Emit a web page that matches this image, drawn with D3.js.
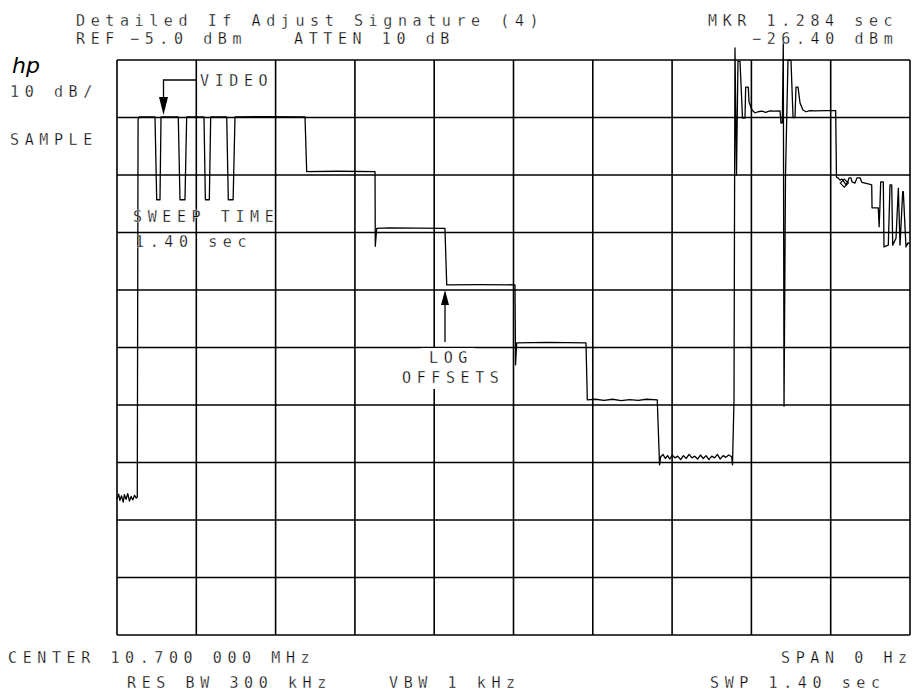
<!DOCTYPE html>
<html lang="en">
<head>
    <meta charset="UTF-8">
    <title>Detailed If Adjust Signature (4)</title>
    <script src="https://d3js.org/d3.v7.min.js"></script>

    <style>
        body {
            margin: 0;
            background: #fff;
        }

        svg {
            display: block;
        }

        /* plotter style lettering: narrow mono glyphs, wide pitch, thin strokes */
        text {
            font-family: 'DejaVu Sans Mono', monospace;
            font-size: 15px;
            letter-spacing: 5.6px;
            fill: #000;
            stroke: #fff;
            stroke-width: 0.3px;
        }
    </style>
</head>
<body>

    <div id="container"></div>

    <script>

        // graticule divisions: 0.14 sec/div across, 10 dB/div down from REF -5 dBm
        const timeDivs = [0, 0.14, 0.28, 0.42, 0.56, 0.70, 0.84, 0.98, 1.12, 1.26, 1.40];
        const levelDivs = [-5, -15, -25, -35, -45, -55, -65, -75, -85, -95, -105];

        // trace, sweep time in sec
        const traceTime = [
            0.000, 0.003, 0.005, 0.008, 0.011, 0.013, 0.016, 0.019,
            0.022, 0.025, 0.028, 0.031, 0.034, 0.0358, 0.0372, 0.0394,
            0.0671, 0.0701, 0.0759, 0.0777, 0.1082, 0.1112, 0.1200, 0.1230,
            0.1536, 0.1560, 0.1630, 0.1654, 0.1937, 0.1965, 0.2050, 0.2083,
            0.2600, 0.3319, 0.3349, 0.3900, 0.4555, 0.4560, 0.4585, 0.4800,
            0.5300, 0.5790, 0.5821, 0.6400, 0.7026, 0.7036, 0.7056, 0.7600,
            0.8280, 0.8303, 0.8450, 0.8600, 0.8750, 0.8900, 0.9050, 0.9200,
            0.9350, 0.9538, 0.9578, 0.9599, 0.9640, 0.9680, 0.9720, 0.9760,
            0.9800, 0.9850, 0.9900, 0.9950, 1.0000, 1.0050, 1.0100, 1.0150,
            1.0200, 1.0250, 1.0300, 1.0350, 1.0400, 1.0450, 1.0500, 1.0550,
            1.0600, 1.0650, 1.0700, 1.0750, 1.0800, 1.0852, 1.0866, 1.0893,
            1.0910, 1.0937, 1.0963, 1.0999, 1.1043, 1.1087, 1.1099, 1.1145,
            1.1158, 1.1211, 1.1264, 1.1317, 1.1387, 1.1450, 1.1528, 1.1600,
            1.1705, 1.1723, 1.1746, 1.1763, 1.1776, 1.1802, 1.1846, 1.1899,
            1.1935, 1.1970, 1.1987, 1.2023, 1.2059, 1.2111, 1.2164, 1.2230,
            1.2323, 1.2500, 1.2688, 1.2702, 1.2729, 1.2764, 1.2800, 1.2835,
            1.2870, 1.2905, 1.2923, 1.2958, 1.2976, 1.3029, 1.3064, 1.3117,
            1.3153, 1.3280, 1.3324, 1.3330, 1.3440, 1.3455, 1.3468, 1.3483,
            1.3529, 1.3541, 1.3617, 1.3647, 1.3677, 1.3695, 1.3753, 1.3794,
            1.3824, 1.3871, 1.3882, 1.3929, 1.3965, 1.4000
        ];

        // trace, level in dBm
        const traceLevel = [
            -81.3, -80.5, -81.6, -80.8, -81.9, -80.6, -81.4, -80.4,
            -81.7, -80.9, -81.5, -80.7, -81.2, -81.0, -15.3, -14.9,
            -14.9, -29.3, -29.3, -14.9, -14.9, -29.3, -29.3, -14.9,
            -14.9, -29.3, -29.3, -14.9, -14.9, -29.3, -29.3, -14.9,
            -14.85, -14.9, -24.4, -24.35, -24.4, -37.4, -34.3, -34.2,
            -34.25, -34.3, -44.1, -44.05, -44.1, -58.0, -54.2, -54.1,
            -54.2, -64.1, -64.0, -64.2, -64.0, -64.25, -64.05, -64.2,
            -64.0, -64.1, -75.4, -74.0, -73.6, -74.3, -73.8, -74.4,
            -73.7, -74.2, -73.9, -74.5, -73.8, -74.3, -73.6, -74.2,
            -73.9, -74.4, -73.7, -74.3, -73.8, -74.5, -73.9, -74.2,
            -73.6, -74.4, -73.8, -74.1, -73.7, -74.0, -75.4, -64.1,
            -2.9, -25.0, -5.2, -5.3, -15.1, -15.1, -9.7, -9.7,
            -12.3, -13.7, -14.2, -14.0, -13.9, -14.1, -13.85, -13.9,
            -13.85, -16.0, -15.9, -2.0, -65.2, -25.0, -5.0, -5.1,
            -15.0, -15.0, -9.7, -9.7, -12.5, -13.7, -14.0, -13.8,
            -13.85, -13.8, -13.8, -25.4, -25.5, -25.9, -25.7, -26.2,
            -26.7, -26.1, -25.5, -25.5, -26.2, -26.4, -25.5, -25.5,
            -26.3, -26.6, -26.7, -30.7, -30.7, -34.0, -30.8, -26.2,
            -26.2, -37.5, -37.2, -26.7, -26.7, -37.2, -36.0, -27.3,
            -37.2, -27.9, -27.9, -37.5, -36.8, -37.0
        ];

        // marker readout
        const markerTime = [1.284];
        const markerLevel = [-26.40];

        // annotation text
        const labels = [
            {text: 'Detailed If Adjust Signature (4)', x: 76, y: 26},
            {text: 'REF', x: 76, y: 43.5},
            {text: '\u22125.0 dBm', x: 130, y: 43.5},
            {text: 'ATTEN 10 dB', x: 294, y: 43.5},
            {text: 'MKR 1.284 sec', x: 708, y: 26},
            {text: '\u221226.40 dBm', x: 752, y: 43.5},
            {text: '10 dB/', x: 10, y: 97},
            {text: 'SAMPLE', x: 10, y: 145},
            {text: 'VIDEO', x: 200, y: 86},
            {text: 'SWEEP TIME', x: 133, y: 222},
            {text: '1.40 sec', x: 135, y: 247},
            {text: 'CENTER 10.700 000 MHz', x: 8, y: 663},
            {text: 'SPAN 0 Hz', x: 781, y: 663},
            {text: 'RES BW 300 kHz', x: 127, y: 688},
            {text: 'VBW 1 kHz', x: 389, y: 688},
            {text: 'SWP 1.40 sec', x: 710, y: 688}
        ];

        // boxed labels, they hide the graticule behind them
        const boxedLabels = [
            {text: 'LOG', x: 429, y: 363},
            {text: 'OFFSETS', x: 402, y: 383}
        ];

        const width = 919;
        const height = 691;

        const container = d3.select('#container');

        const svg = container.append('svg')
            .attr('width', width)
            .attr('height', height);

        // scales
        const x = d3.scaleLinear()
            .domain([0, 1.4])
            .range([117, 910]);

        const y = d3.scaleLinear()
            .domain([-5, -105])
            .range([60, 635]);

        // graticule
        svg.selectAll('.vline')
            .data(timeDivs)
            .enter()
            .append('line')
            .attr('class', 'vline')
            .attr('x1', function(d){ return x(d); })
            .attr('x2', function(d){ return x(d); })
            .attr('y1', y(-5))
            .attr('y2', y(-105))
            .attr('stroke', '#000')
            .attr('stroke-width', 1.6);

        svg.selectAll('.hline')
            .data(levelDivs)
            .enter()
            .append('line')
            .attr('class', 'hline')
            .attr('x1', x(0))
            .attr('x2', x(1.4))
            .attr('y1', function(d){ return y(d); })
            .attr('y2', function(d){ return y(d); })
            .attr('stroke', '#000')
            .attr('stroke-width', 1.6);

        // white boxes + text for LOG OFFSETS
        const boxed = svg.append('g');
        const boxedText = boxed.selectAll('text')
            .data(boxedLabels)
            .enter()
            .append('text')
            .attr('x', function(d){ return d.x; })
            .attr('y', function(d){ return d.y; })
            .text(function(d){ return d.text; });

        boxedText.each(function(){
            const b = this.getBBox();
            boxed.insert('rect', 'text')
                .attr('x', b.x - 8)
                .attr('y', b.y - 1)
                .attr('width', b.width + 10)
                .attr('height', b.height + 3)
                .attr('fill', '#fff');
        });

        // trace
        const line = d3.line()
            .x(function(i){ return x(traceTime[i]); })
            .y(function(i){ return y(traceLevel[i]); });

        svg.append('path')
            .datum(d3.range(traceTime.length))
            .attr('d', line)
            .attr('fill', 'none')
            .attr('stroke', '#000')
            .attr('stroke-width', 1.3)
            .attr('stroke-linejoin', 'round');

        // marker diamond
        svg.selectAll('.marker')
            .data(markerTime)
            .enter()
            .append('path')
            .attr('class', 'marker')
            .attr('d', function(d, i){
                const mx = x(d), my = y(markerLevel[i]);
                return 'M' + (mx - 4) + ',' + my + 'L' + mx + ',' + (my - 4) +
                       'L' + (mx + 4) + ',' + my + 'L' + mx + ',' + (my + 4) + 'Z';
            })
            .attr('fill', 'none')
            .attr('stroke', '#000')
            .attr('stroke-width', 1.2);

        // VIDEO arrow
        svg.append('path')
            .attr('d', 'M197,80 H163.5 V98')
            .attr('fill', 'none')
            .attr('stroke', '#000')
            .attr('stroke-width', 1.3);
        svg.append('path')
            .attr('d', 'M159,97 L168,97 L163.5,115 Z')
            .attr('fill', '#000');

        // LOG OFFSETS arrow
        svg.append('line')
            .attr('x1', 445).attr('x2', 445)
            .attr('y1', 342).attr('y2', 304)
            .attr('stroke', '#000')
            .attr('stroke-width', 1.3);
        svg.append('path')
            .attr('d', 'M441,305 L449,305 L445,290 Z')
            .attr('fill', '#000');

        // hp logo
        svg.append('text')
            .attr('x', 12)
            .attr('y', 73)
            .style('font-family', "'DejaVu Sans', sans-serif")
            .style('font-style', 'italic')
            .style('font-size', '22px')
            .style('letter-spacing', '0px')
            .style('stroke', 'none')
            .text('hp');

        // annotations
        svg.selectAll('.label')
            .data(labels)
            .enter()
            .append('text')
            .attr('class', 'label')
            .attr('x', function(d){ return d.x; })
            .attr('y', function(d){ return d.y; })
            .text(function(d){ return d.text; });

    </script>
</body>
</html>
